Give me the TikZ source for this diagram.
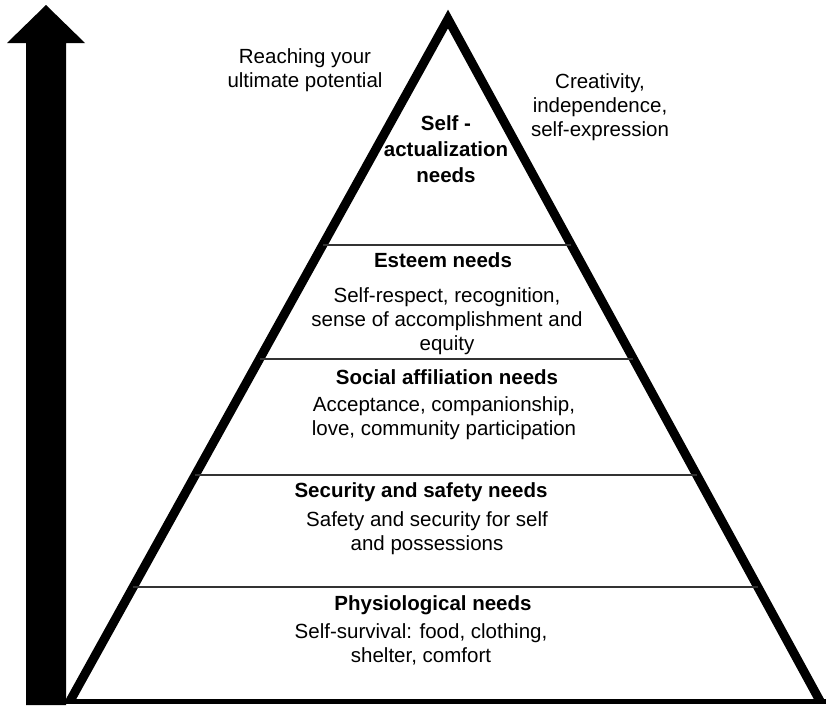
\documentclass[tikz,border=0pt]{standalone}
\usepackage{fontspec}
\setmainfont{Liberation Sans}
\usetikzlibrary{calc}

\begin{document}
\begin{tikzpicture}[x=1pt,y=-1pt,
    txt/.style={align=center, inner sep=0pt, font=\fontsize{20.5}{24}\selectfont},
    head/.style={align=center, inner sep=0pt, font=\fontsize{20.5}{26}\selectfont\bfseries}]
    \useasboundingbox (0,0) rectangle (826,705);

    % Upward arrow on the left
    \fill (26,705) -- (26,43) -- (7,43) -- (46,5) -- (85,43) -- (66,43) -- (66,705) -- cycle;

    % Pyramid outline
    \coordinate (bl) at (70,701);
    \coordinate (br) at (820,701);
    \coordinate (apex) at (448,19);
    \draw[line width=9pt] (bl) -- (apex) -- (br);
    \draw[line width=5pt] (64,701) -- (826,701);

    % Level dividers
    \foreach \t in {0.167,0.332,0.502,0.669}
        \draw[line width=2pt, black!80] ($(bl)!\t!(apex)$) -- ($(br)!\t!(apex)$);

    % Side notes
    \node[txt] (reach) at (305,70) {Reaching your\\ultimate potential};
    \node[txt] (creative) at (600,107) {Creativity,\\independence,\\self-expression};

    % Levels, top to bottom
    \node[head] (selfact) at (446,149) {Self -\\actualization\\needs};

    \node[head] (esteem) at (443,260) {Esteem needs};
    \node[txt] (esteemtxt) at (447,321) {Self-respect, recognition,\\sense of accomplishment and\\equity};

    \node[head] (social) at (447,377) {Social affiliation needs};
    \node[txt] (socialtxt) at (444,418) {Acceptance, companionship,\\love, community participation};

    \node[head] (security) at (421,492) {Security and safety needs};
    \node[txt] (securitytxt) at (427,533) {Safety and security for self\\and possessions};

    \node[head] (physio) at (433,605) {Physiological needs};
    \node[txt] (physiotxt) at (421,644) {Self-survival: food, clothing,\\shelter, comfort};
\end{tikzpicture}
\end{document}
